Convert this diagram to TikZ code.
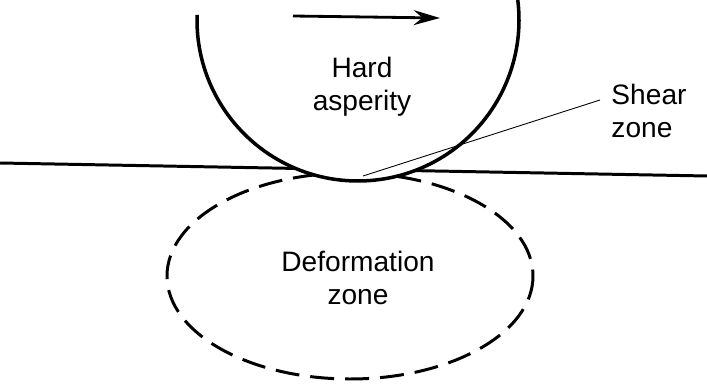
\documentclass[tikz,border=0pt]{standalone}
\usepackage{fontspec}
\setmainfont{Liberation Sans}
\usetikzlibrary{arrows.meta, positioning}

\begin{document}
\begin{tikzpicture}[x=0.02cm, y=-0.02cm, line width=1.7pt,
        zonetext/.style={inner sep=0pt, font=\fontsize{16}{19}\selectfont},
        dashzone/.style={line width=1.7pt, dash pattern=on 0.48cm off 0.22cm}]
    \useasboundingbox[fill=white] (0,0) rectangle (707,385);
    % surface, deformed region, asperity in front
    \coordinate (surfL) at (0,163);
    \coordinate (surfR) at (707,176);
    \draw (surfL) -- (surfR);
    \draw[dashzone] (350,276) ellipse [x radius=183, y radius=103];
    \coordinate (ctr) at (358,20);
    \fill[white] (ctr) circle[radius=161];
    \draw[line width=2pt] ([shift={(181.8:161)}]ctr) arc[start angle=181.8, end angle=-7.1, radius=161];
    % sliding direction
    \coordinate (moveA) at (293,16);
    \coordinate (moveB) at (440,18);
    \draw[line width=1.6pt, -{Stealth[length=15pt, width=8.5pt, inset=5pt]}] (moveA) -- (moveB);
    \node[zonetext, align=center] (hard) at (362,87) {Hard\\asperity};
    \node[zonetext, align=center] (deform) at (358,278) {Deformation\\zone};
    \node[zonetext, align=left, anchor=west] (shear) at (610,111) {Shear\\zone};
    \coordinate (shearpt) at (363,176);
    \draw[line width=0.5pt] ([xshift=-0.2cm, yshift=0.22cm]shear.west) -- (shearpt);
\end{tikzpicture}
\end{document}
